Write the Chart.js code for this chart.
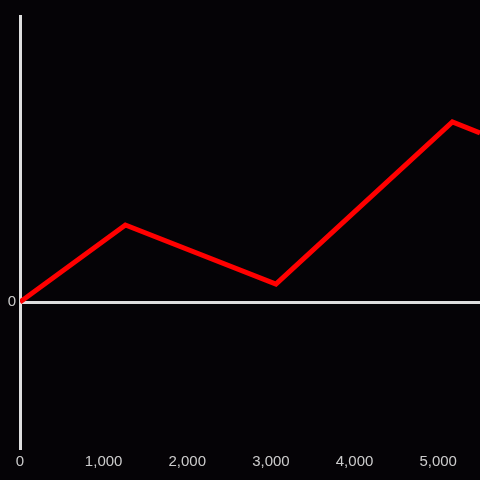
<!DOCTYPE html>
<html>
<head>
<meta charset="utf-8">
<script src="https://cdn.jsdelivr.net/npm/chart.js@4"></script>
<style>
  html, body { margin: 0; padding: 0; background: #050306; }
  #wrap { width: 480px; height: 480px; position: relative; }
</style>
</head>
<body>
<div id="wrap"><canvas id="c" width="480" height="480"></canvas></div>
<script>
const xValues = [0, 1260, 3060, 5170, 5500];
const yValues = [0, 77, 18, 180, 169];
const xTicks = [0, 1000, 2000, 3000, 4000, 5000];
const yTicks = [0];

const axisColor = '#dedede';
const labelColor = '#cccccc';

new Chart(document.getElementById('c'), {
  type: 'line',
  data: {
    datasets: [{
      data: xValues.map((x, i) => ({ x: x, y: yValues[i] })),
      borderColor: '#ff0000',
      borderWidth: 5,
      pointRadius: 0,
      tension: 0,
      fill: false
    }]
  },
  options: {
    responsive: false,
    animation: false,
    layout: { padding: { top: 16, right: 0, left: 0, bottom: 0 } },
    plugins: { legend: { display: false }, tooltip: { enabled: false } },
    scales: {
      x: {
        type: 'linear',
        min: 0,
        max: 5500,
        afterBuildTicks: (s) => { s.ticks = xTicks.map(v => ({ value: v })); },
        afterFit: (s) => { s.height = 32; },
        grid: { display: false, drawTicks: false },
        border: { display: false },
        ticks: {
          color: labelColor,
          padding: 5,
          maxRotation: 0,
          font: { family: 'Liberation Sans, Arial, sans-serif', size: 15 },
          callback: (v) => v.toLocaleString('en-US')
        }
      },
      y: {
        type: 'linear',
        min: -146,
        max: 286,
        afterBuildTicks: (s) => { s.ticks = yTicks.map(v => ({ value: v })); },
        afterFit: (s) => { s.width = 20; },
        grid: { color: axisColor, lineWidth: 3, drawTicks: false },
        border: { display: true, color: axisColor, width: 3 },
        ticks: {
          color: labelColor,
          padding: 4,
          font: { family: 'Liberation Sans, Arial, sans-serif', size: 15 },
          callback: (v) => v.toLocaleString('en-US')
        }
      }
    }
  }
});
</script>
</body>
</html>
